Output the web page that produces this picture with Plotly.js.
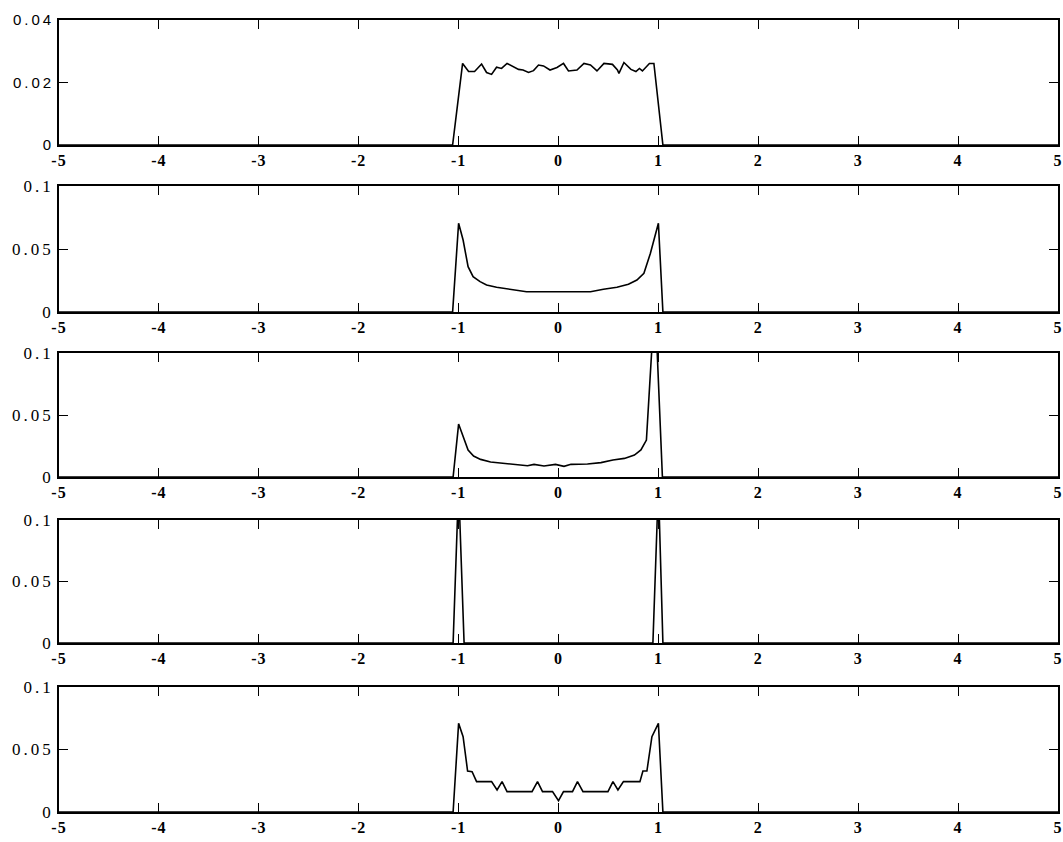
<!DOCTYPE html>
<html>
<head>
<meta charset="utf-8">
<script src="https://cdn.plot.ly/plotly-3.0.1.min.js"></script>
<style>
html,body{margin:0;padding:0;background:#fff;}
#chart{width:1063px;height:842px;}
#chart .yaxislayer-above text{letter-spacing:3px;}
#chart .xaxislayer-above text{letter-spacing:1px;}
</style>
</head>
<body>
<div id="chart"></div>
<script>
// ---- data ----
const x1 = [-5, -1.06, -0.96, -0.90, -0.84, -0.77, -0.72, -0.67, -0.62, -0.57, -0.515, -0.455, -0.40, -0.355, -0.30, -0.25, -0.20, -0.15, -0.085, -0.015, 0.05, 0.10, 0.185, 0.255, 0.32, 0.385, 0.455, 0.54, 0.59, 0.605, 0.655, 0.725, 0.775, 0.81, 0.84, 0.91, 0.955, 1.045, 5];
const y1 = [0, 0, 0.0261, 0.0235, 0.0235, 0.0259, 0.0232, 0.0226, 0.0249, 0.0245, 0.0261, 0.0251, 0.0242, 0.0240, 0.0232, 0.0238, 0.0256, 0.0253, 0.0240, 0.0248, 0.0261, 0.0237, 0.0240, 0.0261, 0.0256, 0.0237, 0.0261, 0.0258, 0.0240, 0.0229, 0.0264, 0.0242, 0.0235, 0.0245, 0.0237, 0.0261, 0.0261, 0, 0];

const x2 = [-5, -1.06, -1.0, -0.955, -0.905, -0.855, -0.785, -0.72, -0.62, -0.485, -0.32, 0, 0.32, 0.45, 0.585, 0.70, 0.785, 0.855, 0.92, 1.0, 1.045, 5];
const y2 = [0, 0, 0.0704, 0.0571, 0.0360, 0.0280, 0.0241, 0.0214, 0.0196, 0.0180, 0.0161, 0.0161, 0.0161, 0.0180, 0.0196, 0.0220, 0.0254, 0.0307, 0.0466, 0.0704, 0, 0];

const x3 = [-5, -1.055, -1.0, -0.955, -0.905, -0.85, -0.78, -0.68, -0.545, -0.41, -0.31, -0.245, -0.145, -0.03, 0.055, 0.125, 0.29, 0.425, 0.545, 0.66, 0.76, 0.825, 0.88, 0.965, 1.04, 5];
const y3 = [0, 0, 0.0427, 0.0325, 0.0218, 0.0169, 0.0142, 0.0121, 0.0110, 0.0105, 0.0091, 0.0102, 0.0089, 0.0102, 0.0086, 0.0102, 0.0105, 0.0116, 0.0137, 0.0150, 0.0177, 0.0218, 0.0298, 0.145, 0, 0];

const x4 = [-5, -1.055, -1.0, -0.945, 0.945, 1.0, 1.045, 5];
const y4 = [0, 0, 0.128, 0, 0, 0.128, 0, 0];

const x5 = [-5, -1.055, -1.0, -0.955, -0.91, -0.865, -0.82, -0.67, -0.615, -0.565, -0.515, -0.265, -0.21, -0.16, -0.06, 0, 0.05, 0.14, 0.19, 0.245, 0.495, 0.545, 0.595, 0.65, 0.815, 0.845, 0.885, 0.935, 1.0, 1.045, 5];
const y5 = [0, 0, 0.0709, 0.0603, 0.0328, 0.0323, 0.0243, 0.0243, 0.0176, 0.0243, 0.0163, 0.0163, 0.0243, 0.0163, 0.0163, 0.0091, 0.0163, 0.0163, 0.0243, 0.0163, 0.0163, 0.0243, 0.0176, 0.0243, 0.0243, 0.0328, 0.0328, 0.0603, 0.0709, 0, 0];

const xTickVals = [-5, -4, -3, -2, -1, 0, 1, 2, 3, 4, 5];
const xTickText = ['-5', '-4', '-3', '-2', '-1', '0', '1', '2', '3', '4', '5'];
const yTickVals1 = [0, 0.02, 0.04];
const yTickText1 = ['0', '0.02', '0.04'];
const yTickVals = [0, 0.05, 0.1];
const yTickText = ['0', '0.05', '0.1'];

// ---- layout ----
const W = 1063, H = 842;
const mL = 59, mR = 5, mT = 20, mB = 30;
const plotH = H - mT - mB;
// panel pixel extents [top, bottom]
const panels = [[20, 145], [186, 312], [353, 477], [520, 643], [687, 812]];
function dom(p) { return [(H - mB - p[1]) / plotH, (H - mB - p[0]) / plotH]; }

const xs = [x1, x2, x3, x4, x5];
const ys = [y1, y2, y3, y4, y5];
const traces = xs.map((x, i) => ({
  x: x, y: ys[i], type: 'scatter', mode: 'lines',
  line: { color: '#000', width: 1.6 },
  xaxis: i === 0 ? 'x' : 'x' + (i + 1),
  yaxis: i === 0 ? 'y' : 'y' + (i + 1),
  hoverinfo: 'skip', showlegend: false
}));

function serifX() { return { family: 'Liberation Serif', size: 16, color: '#000', weight: 'bold' }; }
function serifY() { return { family: 'Liberation Serif', size: 17, color: '#000', weight: 'normal' }; }
function sans() { return { family: 'Liberation Sans', size: 15, color: '#000', weight: 'normal' }; }

const layout = {
  width: W, height: H,
  margin: { l: mL, r: mR, t: mT, b: mB },
  paper_bgcolor: '#fff', plot_bgcolor: '#fff',
  showlegend: false,
  font: { family: 'Liberation Serif', size: 16, color: '#000' }
};
for (let i = 0; i < 5; i++) {
  const n = i === 0 ? '' : String(i + 1);
  layout['xaxis' + n] = {
    domain: [0, 1], anchor: 'y' + n, range: [-5, 5],
    tickmode: 'array', tickvals: xTickVals.slice(), ticktext: xTickText.slice(),
    ticks: 'inside', ticklen: 9, tickwidth: 1.3, tickcolor: '#000',
    showline: true, linecolor: '#000', linewidth: 1.6, mirror: 'ticks',
    showgrid: false, zeroline: false, tickfont: serifX()
  };
  layout['yaxis' + n] = {
    domain: dom(panels[i]), anchor: 'x' + n,
    range: i === 0 ? [0, 0.04] : [0, 0.1],
    tickmode: 'array',
    tickvals: (i === 0 ? yTickVals1 : yTickVals).slice(),
    ticktext: (i === 0 ? yTickText1 : yTickText).slice(),
    ticks: 'inside', ticklen: 9, tickwidth: 1.3, tickcolor: '#000',
    showline: true, linecolor: '#000', linewidth: 1.6, mirror: 'ticks',
    showgrid: false, zeroline: false,
    tickfont: i === 0 ? sans() : serifY()
  };
}

Plotly.newPlot('chart', traces, layout, { displayModeBar: false });
</script>
</body>
</html>
